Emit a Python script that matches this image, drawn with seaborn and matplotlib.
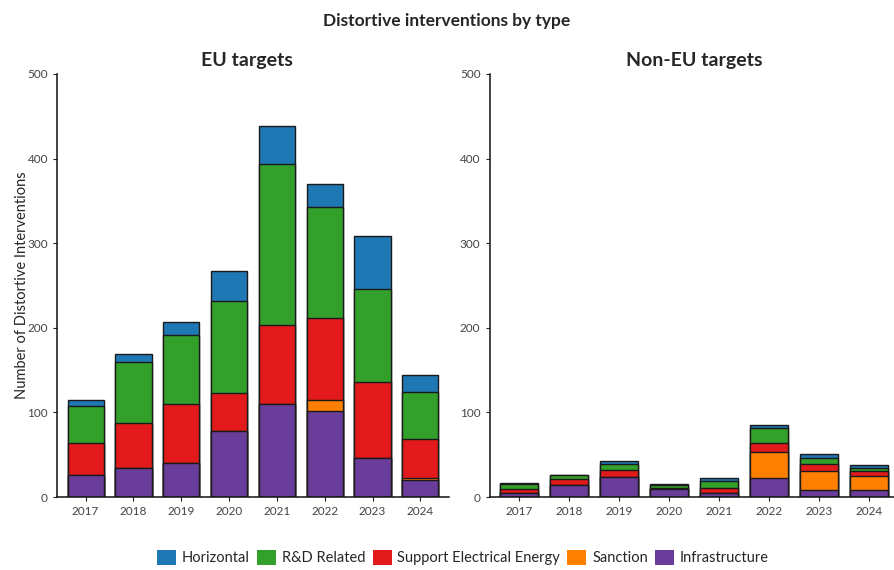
import numpy as np
import pandas as pd
import matplotlib
matplotlib.use("Agg")
import matplotlib.pyplot as plt
import seaborn as sns
from matplotlib.patches import Patch

years = ["2017", "2018", "2019", "2020", "2021", "2022", "2023", "2024"]
types = ["Horizontal", "R&D Related", "Support Electrical Energy", "Sanction", "Infrastructure"]
colors = ["#1f77b4", "#33a02c", "#e31a1c", "#ff7f00", "#6a3d9a"]

# EU targets
eu_infra = [26, 34, 40, 78, 110, 102, 46, 20]
eu_sanction = [0, 0, 0, 0, 0, 13, 0, 2]
eu_support = [38, 53, 70, 45, 93, 97, 90, 46]
eu_rnd = [44, 73, 81, 109, 191, 131, 110, 56]
eu_horizontal = [7, 9, 16, 35, 44, 27, 62, 20]

# Non-EU targets
neu_infra = [5, 14, 24, 9, 5, 23, 8, 8]
neu_sanction = [0, 0, 0, 0, 0, 30, 23, 17]
neu_support = [5, 7, 8, 2, 6, 11, 8, 6]
neu_rnd = [5, 5, 7, 3, 8, 17, 7, 3]
neu_horizontal = [1, 0, 3, 1, 4, 4, 5, 4]

sns.set_theme(style="ticks")
plt.rcParams['font.family'] = ['Lato', 'DejaVu Sans']

fig = plt.figure(figsize=(8.94, 5.7), dpi=100)
ax1 = fig.add_axes([57/894, 73/570, 392/894, 423/570])
ax2 = fig.add_axes([489.5/894, 73/570, 409/894, 423/570])


def stacked(ax, layers, title):
    # layers listed bottom->top; draw cumulative totals from top down
    df = pd.DataFrame(dict(zip(types[::-1], layers)), index=years)
    cum = df.cumsum(axis=1)
    for name in types:
        col = colors[types.index(name)]
        d = pd.DataFrame({"year": years, "val": cum[name].values})
        sns.barplot(data=d, x="year", y="val", color=col, width=0.76,
                    edgecolor="#1a1a1a", linewidth=1.0, saturation=1, ax=ax)
    ax.set_ylim(0, 500)
    ax.set_xlim(-0.6, 7.6)
    ax.set_yticks([0, 100, 200, 300, 400, 500])
    ax.set_xlabel("")
    ax.set_ylabel("")
    ax.set_title(title, fontsize=14, fontweight="bold", pad=6)
    sns.despine(ax=ax)
    ax.tick_params(axis="both", labelsize=8.5, labelcolor="#444444",
                   length=3, width=0.8, color="#222222")
    for s in ["left", "bottom"]:
        ax.spines[s].set_linewidth(1.1)
        ax.spines[s].set_color("#111111")


stacked(ax1, [eu_infra, eu_sanction, eu_support, eu_rnd, eu_horizontal], "EU targets")
stacked(ax2, [neu_infra, neu_sanction, neu_support, neu_rnd, neu_horizontal], "Non-EU targets")
ax1.set_ylabel("Number of Distortive Interventions", fontsize=10.5, labelpad=-1)
ax1.title.set_position((0.485, 1.0))

fig.suptitle("Distortive interventions by type", fontsize=12.5, fontweight="bold", y=0.978)

handles = [Patch(facecolor=c, edgecolor="none", label=t) for t, c in zip(types, colors)]
fig.legend(handles=handles, loc="center", bbox_to_anchor=(0.518, 0.022), ncol=5,
           frameon=False, fontsize=10.5, handlelength=1.3, handleheight=1.3,
           handletextpad=0.4, columnspacing=0.5)

fig.savefig("out.png", dpi=100)
